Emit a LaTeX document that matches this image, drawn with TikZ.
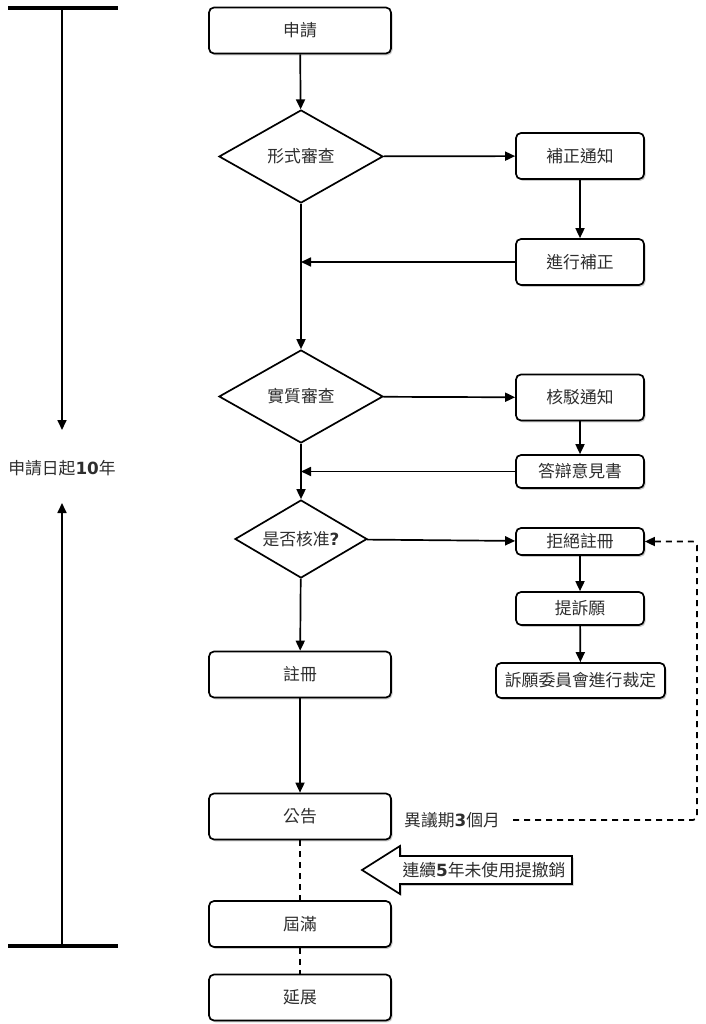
\documentclass[tikz,border=0pt]{standalone}
\usepackage{fontspec}
\setmainfont{Noto Sans CJK TC}
\newfontfamily\latinb{DejaVu Sans}
\usetikzlibrary{arrows.meta,shapes.geometric,shadows}
\newcommand{\bnum}[1]{{\latinb\bfseries #1}}
\tikzset{
  every node/.style={font=\fontsize{16.8}{19}\selectfont, text=black!82},
  shad/.style={drop shadow={shadow xshift=1.5pt, shadow yshift=-1.8pt, fill=black!35, opacity=0.6}},
  box/.style={draw, rounded corners=5pt, line width=1.7pt, fill=white, shad,
    minimum width=182pt, minimum height=46pt, inner sep=2pt},
  sbox/.style={box, minimum width=128pt},
  tbox/.style={box, minimum width=128pt, minimum height=33pt},
  dia/.style={diamond, draw, line width=1.7pt, fill=white, inner sep=0pt,
    minimum width=164pt, minimum height=93pt, aspect=1.76},
  arr/.style={line width=1.7pt, -{Triangle[length=10pt,width=9pt]}},
  dsh/.style={line width=1.7pt, dash pattern=on 6pt off 5pt},
  bar/.style={line width=4pt}
}
\begin{document}
\begin{tikzpicture}[x=1pt,y=-1pt]
\useasboundingbox (0,0) rectangle (705,1024);
% timeline
\coordinate (tl) at (8,8); \coordinate (tr) at (118,8);
\coordinate (bl) at (8,946); \coordinate (br) at (118,946);
\coordinate (tm) at (62,8); \coordinate (bm) at (62,946);
\coordinate (ta) at (62,430); \coordinate (ba) at (62,503);
\draw[bar] (tl) -- (tr);
\draw[bar] (bl) -- (br);
\draw[arr] (tm) -- (ta);
\draw[arr] (bm) -- (ba);
\node (tlabel) at (62,468) {申請日起\bnum{10}年};
% main column
\node[box] (s1) at (300,30.5) {申請};
\node[dia] (d1) at (301,156.5) {形式審查};
\node[sbox] (b1) at (580,156) {補正通知};
\node[sbox] (b2) at (580,262) {進行補正};
\node[dia] (d2) at (301,396.5) {實質審查};
\node[sbox] (b3) at (580,397.5) {核駁通知};
\node[tbox] (b4) at (580,471.5) {答辯意見書};
\node[dia, minimum width=132pt, minimum height=78pt, aspect=1.7] (d3) at (301,539) {是否核准\bnum{?}};
\node[sbox, minimum height=27pt] (b5) at (580,541.5) {拒絕註冊};
\node[tbox] (b6) at (580,608.5) {提訴願};
\node[tbox, minimum width=169pt, minimum height=35pt] (b7) at (580.5,680.5) {訴願委員會進行裁定};
\node[box] (s2) at (300,674.5) {註冊};
\node[box] (s3) at (300,816.5) {公告};
\node[box] (s4) at (300,924) {屆滿};
\node[box] (s5) at (300,997.5) {延展};
% connectors
\draw[arr] (s1) -- (d1);
\draw[arr] (d1) -- (b1);
\draw[arr] (b1) -- (b2);
\draw[arr] (b2.west) -- (b2.west -| d1.south);
\draw[arr] (d1) -- (d2);
\draw[arr] (d2) -- (b3);
\draw[arr] (b3) -- (b4);
\draw[arr] (b4.west) -- (b4.west -| d2.south);
\draw[arr] (d2) -- (d3);
\draw[arr] (d3) -- (b5);
\draw[arr] (b5) -- (b6);
\draw[arr] (b6) -- (b7);
\draw[arr] (d3) -- (s2);
\draw[arr] (s2) -- (s3);
\draw[dsh] (s3) -- (s4);
\draw[dsh] (s4) -- (s5);
% objection period
\node[anchor=west, inner sep=0pt] (obj) at (404,820) {異議期\bnum{3}個月};
\coordinate (oa) at (513,820);
\coordinate (oc) at (697,820);
\draw[dsh, -{Triangle[length=10pt,width=9pt]}, rounded corners=4pt] (oa) -- (oc) -- (oc |- b5.east) -- (b5.east);
% revoke arrow
\draw[line width=1.7pt, fill=white, shad] (572,856) -- (400,856) -- (400,846) -- (362,870) -- (400,894) -- (400,884) -- (572,884) -- cycle;
\node (rev) at (484,870) {連續\bnum{5}年未使用提撤銷};
\end{tikzpicture}
\end{document}
